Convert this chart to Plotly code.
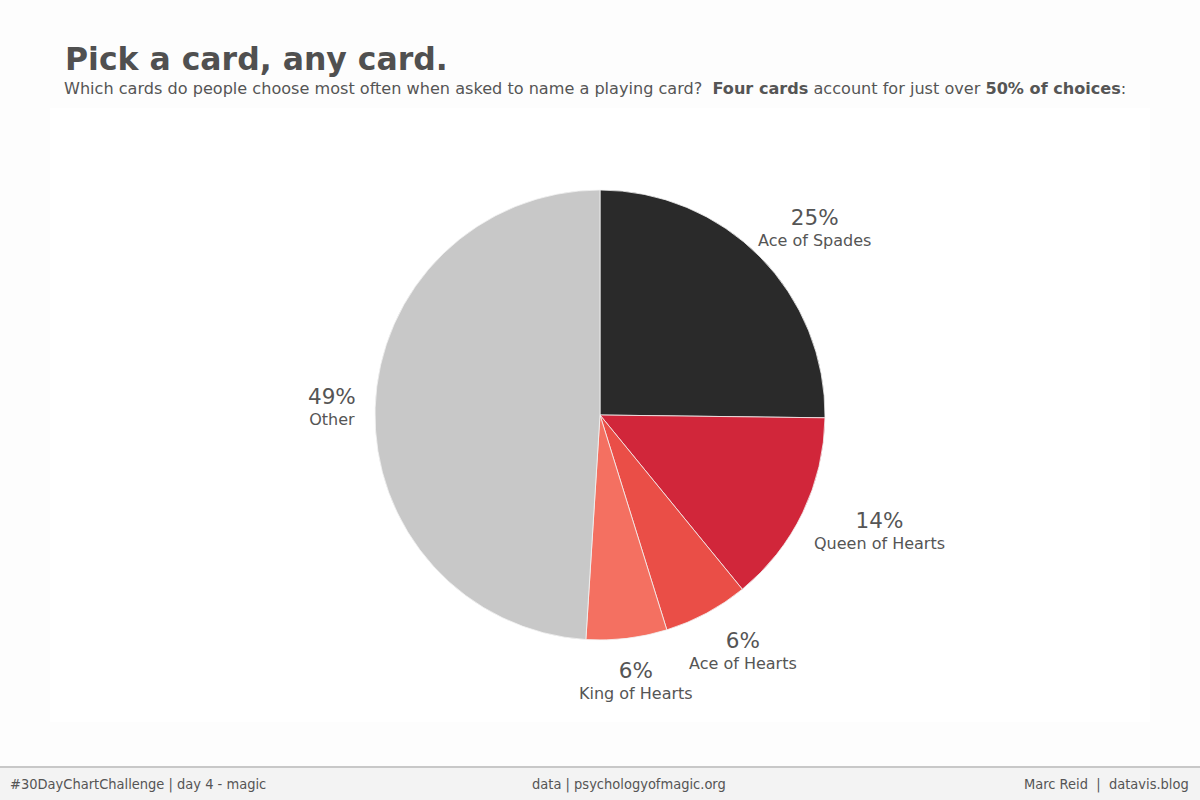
import math
import plotly.graph_objects as go

cards = ["Ace of Spades", "Queen of Hearts", "Ace of Hearts", "King of Hearts", "Other"]
shares = [25.2, 13.9, 6.1, 5.8, 49.0]
colors = ["#2a2a2a", "#d1263a", "#ea4e47", "#f47061", "#c8c8c8"]

W, H = 1200, 800
cx, cy, R = 600, 415, 225  # pie centre / radius in pixels

fig = go.Figure()
fig.add_trace(go.Pie(
    labels=cards, values=shares, sort=False, direction="clockwise", rotation=0,
    marker=dict(colors=colors, line=dict(color="#f2f2f2", width=0.8)),
    textinfo="none", hoverinfo="label+percent", showlegend=False,
    domain=dict(x=[(cx - R) / W, (cx + R) / W], y=[1 - (cy + R) / H, 1 - (cy - R) / H]),
))

# labels positioned from the data (slice mid-angles), box pushed outward from rim
total = sum(shares)
cum = 0.0
annotations = []
gap = 20
for name, v in zip(cards, shares):
    mid = (cum + v / 2) / total * 2 * math.pi
    cum += v
    s, c = math.sin(mid), -math.cos(mid)
    half_w = max(len(name) * 8.7, 47) / 2
    half_h = 22
    px = cx + (R + gap) * s + half_w * s
    py = cy + (R + gap) * c + half_h * c
    pct = round(v / total * 100)
    annotations.append(dict(
        x=px / W, y=1 - py / H, xref="paper", yref="paper",
        text=f"<span style='font-size:21.5px'>{pct}%</span><br>{name}",
        showarrow=False, xanchor="center", yanchor="middle", align="center",
        font=dict(family="DejaVu Sans, Verdana, sans-serif", size=16, color="#555555"),
    ))

foot_font = dict(family="DejaVu Sans Condensed, DejaVu Sans, sans-serif", size=14.5, color="#555555")
annotations += [
    dict(x=63 / W, y=1 - 79 / H, xref="paper", yref="paper", xanchor="left", yanchor="bottom",
         text="<b>Pick a card, any card.</b>", showarrow=False,
         font=dict(family="DejaVu Sans, Verdana, sans-serif", size=31.5, color="#505050")),
    dict(x=62 / W, y=1 - 89 / H, xref="paper", yref="paper", xanchor="left", yanchor="middle",
         text="Which cards do people choose most often when asked to name a playing card?&nbsp; "
              "<b>Four cards</b> account for just over <b>50% of choices</b>:",
         showarrow=False,
         font=dict(family="DejaVu Sans, Verdana, sans-serif", size=16.1, color="#555555")),
    dict(x=8 / W, y=1 - 784 / H, xref="paper", yref="paper", xanchor="left", yanchor="middle",
         text="#30DayChartChallenge | day 4 - magic", showarrow=False, font=foot_font),
    dict(x=629 / W, y=1 - 784 / H, xref="paper", yref="paper", xanchor="center", yanchor="middle",
         text="data | psychologyofmagic.org", showarrow=False, font=foot_font),
    dict(x=1191 / W, y=1 - 784 / H, xref="paper", yref="paper", xanchor="right", yanchor="middle",
         text="Marc Reid&nbsp; |&nbsp; datavis.blog", showarrow=False, font=foot_font),
]

shapes = [
    dict(type="rect", xref="paper", yref="paper", x0=50 / W, x1=1150 / W, y0=1 - 722 / H, y1=1 - 108 / H,
         fillcolor="#ffffff", line=dict(width=0), layer="below"),
    dict(type="rect", xref="paper", yref="paper", x0=0, x1=1, y0=0, y1=1 - 767 / H,
         fillcolor="#f3f3f3", line=dict(width=0), layer="below"),
    dict(type="line", xref="paper", yref="paper", x0=0, x1=1, y0=1 - 767 / H, y1=1 - 767 / H,
         line=dict(color="#c8c8c8", width=2)),
]

fig.update_layout(
    width=W, height=H, margin=dict(l=0, r=0, t=0, b=0),
    paper_bgcolor="#fdfdfd", plot_bgcolor="#fdfdfd",
    annotations=annotations, shapes=shapes,
)

fig.write_html("out.html")
